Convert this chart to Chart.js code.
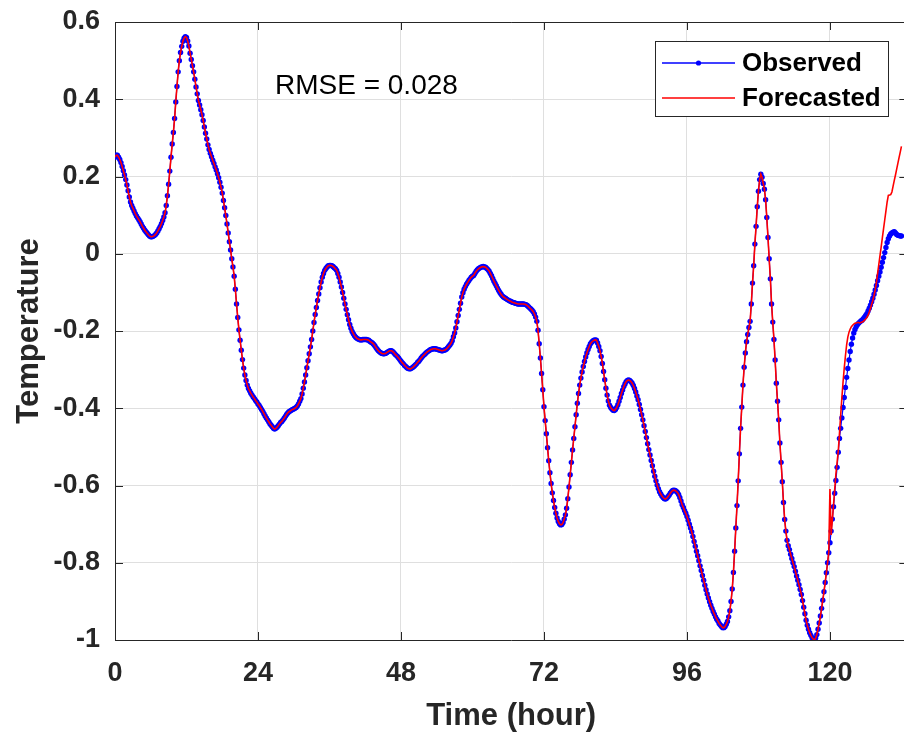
<!DOCTYPE html>
<html><head><meta charset="utf-8">
<script src="https://cdn.jsdelivr.net/npm/chart.js@4.4.1/dist/chart.umd.min.js"></script>
<style>
html,body{margin:0;padding:0;background:#fff;overflow:hidden;}
#wrap{width:912px;height:735px;}
</style></head><body>
<div id="wrap"><canvas id="c" width="912" height="735"></canvas></div>
<script>
// ---- data ----
const sampleStepHours = 0.2;
const xTickValues = [0, 24, 48, 72, 96, 120];
const xTickLabels = ['0', '24', '48', '72', '96', '120'];
const yTickValues = [-1, -0.8, -0.6, -0.4, -0.2, 0, 0.2, 0.4, 0.6];
const yTickLabels = ['-1', '-0.8', '-0.6', '-0.4', '-0.2', '0', '0.2', '0.4', '0.6'];
const seriesNames = ['Observed', 'Forecasted'];
const xAxisTitle = 'Time (hour)';
const yAxisTitle = 'Temperature';
const rmseText = 'RMSE = 0.028';

const observed = [
0.250,0.255,0.255,0.250,0.244,
0.236,0.226,0.215,0.204,0.192,
0.178,0.163,0.147,0.134,0.125,
0.118,0.111,0.104,0.098,0.093,
0.088,0.083,0.077,0.071,0.066,
0.061,0.057,0.053,0.049,0.046,
0.044,0.044,0.045,0.047,0.050,
0.054,0.059,0.065,0.071,0.078,
0.086,0.095,0.106,0.125,0.150,
0.180,0.214,0.250,0.284,0.314,
0.350,0.393,0.433,0.471,0.500,
0.521,0.537,0.550,0.558,0.562,
0.560,0.551,0.538,0.519,0.503,
0.487,0.471,0.452,0.432,0.414,
0.397,0.385,0.373,0.360,0.345,
0.328,0.312,0.297,0.282,0.270,
0.260,0.251,0.242,0.234,0.225,
0.217,0.207,0.197,0.185,0.172,
0.157,0.138,0.119,0.099,0.077,
0.054,0.031,0.010,-0.013,-0.034,
-0.058,-0.092,-0.130,-0.165,-0.197,
-0.224,-0.250,-0.274,-0.296,-0.314,
-0.328,-0.340,-0.349,-0.355,-0.361,
-0.366,-0.371,-0.375,-0.380,-0.384,
-0.389,-0.393,-0.398,-0.403,-0.408,
-0.414,-0.420,-0.425,-0.430,-0.435,
-0.440,-0.444,-0.448,-0.452,-0.454,
-0.452,-0.449,-0.445,-0.441,-0.437,
-0.434,-0.430,-0.426,-0.421,-0.416,
-0.412,-0.409,-0.407,-0.405,-0.403,
-0.402,-0.400,-0.398,-0.394,-0.389,
-0.382,-0.375,-0.363,-0.348,-0.332,
-0.314,-0.295,-0.277,-0.259,-0.241,
-0.222,-0.200,-0.178,-0.157,-0.139,
-0.121,-0.104,-0.088,-0.073,-0.061,
-0.051,-0.043,-0.038,-0.034,-0.031,
-0.030,-0.030,-0.031,-0.033,-0.036,
-0.039,-0.043,-0.051,-0.061,-0.073,
-0.086,-0.100,-0.115,-0.130,-0.144,
-0.158,-0.171,-0.183,-0.193,-0.201,
-0.207,-0.212,-0.216,-0.219,-0.221,
-0.222,-0.223,-0.223,-0.222,-0.222,
-0.222,-0.222,-0.223,-0.224,-0.227,
-0.229,-0.231,-0.234,-0.238,-0.243,
-0.247,-0.251,-0.254,-0.256,-0.258,
-0.259,-0.259,-0.258,-0.256,-0.254,
-0.252,-0.251,-0.251,-0.253,-0.256,
-0.260,-0.263,-0.266,-0.270,-0.274,
-0.278,-0.282,-0.285,-0.289,-0.292,
-0.295,-0.297,-0.298,-0.298,-0.296,
-0.294,-0.291,-0.288,-0.285,-0.281,
-0.278,-0.274,-0.270,-0.266,-0.263,
-0.260,-0.257,-0.254,-0.252,-0.250,
-0.248,-0.247,-0.246,-0.246,-0.246,
-0.247,-0.248,-0.249,-0.250,-0.251,
-0.251,-0.250,-0.249,-0.247,-0.244,
-0.240,-0.236,-0.232,-0.225,-0.215,
-0.205,-0.192,-0.176,-0.160,-0.144,
-0.128,-0.112,-0.101,-0.092,-0.085,
-0.079,-0.074,-0.069,-0.065,-0.061,
-0.058,-0.056,-0.051,-0.046,-0.042,
-0.039,-0.037,-0.035,-0.034,-0.033,
-0.034,-0.035,-0.038,-0.041,-0.045,
-0.051,-0.057,-0.064,-0.071,-0.077,
-0.083,-0.089,-0.095,-0.100,-0.105,
-0.109,-0.112,-0.114,-0.116,-0.118,
-0.120,-0.122,-0.123,-0.125,-0.126,
-0.127,-0.128,-0.129,-0.130,-0.130,
-0.130,-0.130,-0.130,-0.130,-0.131,
-0.132,-0.134,-0.137,-0.140,-0.143,
-0.146,-0.150,-0.156,-0.164,-0.175,
-0.198,-0.233,-0.270,-0.310,-0.352,
-0.396,-0.432,-0.466,-0.502,-0.536,
-0.567,-0.595,-0.619,-0.639,-0.657,
-0.672,-0.684,-0.693,-0.699,-0.702,
-0.701,-0.696,-0.687,-0.676,-0.659,
-0.634,-0.604,-0.572,-0.540,-0.508,
-0.478,-0.448,-0.417,-0.387,-0.362,
-0.340,-0.322,-0.306,-0.292,-0.279,
-0.267,-0.257,-0.248,-0.240,-0.233,
-0.229,-0.226,-0.224,-0.223,-0.224,
-0.231,-0.240,-0.251,-0.266,-0.284,
-0.305,-0.326,-0.348,-0.366,-0.381,
-0.392,-0.398,-0.402,-0.405,-0.406,
-0.403,-0.398,-0.391,-0.382,-0.372,
-0.362,-0.353,-0.344,-0.337,-0.331,
-0.328,-0.327,-0.328,-0.331,-0.335,
-0.341,-0.349,-0.358,-0.368,-0.378,
-0.390,-0.403,-0.417,-0.430,-0.445,
-0.460,-0.476,-0.492,-0.507,-0.521,
-0.535,-0.549,-0.563,-0.576,-0.588,
-0.599,-0.608,-0.616,-0.622,-0.627,
-0.631,-0.634,-0.635,-0.633,-0.629,
-0.625,-0.620,-0.616,-0.613,-0.612,
-0.613,-0.615,-0.618,-0.623,-0.631,
-0.640,-0.650,-0.657,-0.665,-0.672,
-0.680,-0.690,-0.700,-0.710,-0.720,
-0.732,-0.745,-0.757,-0.770,-0.782,
-0.795,-0.808,-0.820,-0.833,-0.845,
-0.858,-0.870,-0.881,-0.891,-0.901,
-0.910,-0.918,-0.926,-0.933,-0.940,
-0.946,-0.951,-0.957,-0.961,-0.965,
-0.968,-0.968,-0.965,-0.959,-0.952,
-0.940,-0.924,-0.900,-0.868,-0.825,
-0.770,-0.710,-0.652,-0.588,-0.518,
-0.452,-0.397,-0.340,-0.294,-0.257,
-0.228,-0.209,-0.191,-0.175,-0.130,
-0.076,-0.031,0.025,0.071,0.122,
0.162,0.192,0.206,0.198,0.182,
0.167,0.140,0.094,0.042,-0.013,
-0.065,-0.130,-0.177,-0.222,-0.275,
-0.335,-0.382,-0.430,-0.490,-0.540,
-0.590,-0.644,-0.688,-0.718,-0.742,
-0.756,-0.766,-0.778,-0.789,-0.800,
-0.810,-0.822,-0.834,-0.845,-0.857,
-0.869,-0.882,-0.898,-0.915,-0.932,
-0.949,-0.962,-0.972,-0.981,-0.988,
-0.994,-0.998,-1.000,-0.995,-0.986,
-0.972,-0.956,-0.938,-0.918,-0.897,
-0.875,-0.851,-0.826,-0.800,-0.774,
-0.748,-0.718,-0.687,-0.655,-0.620,
-0.587,-0.553,-0.514,-0.478,-0.452,
-0.425,-0.398,-0.372,-0.346,-0.320,
-0.297,-0.275,-0.253,-0.234,-0.218,
-0.205,-0.196,-0.189,-0.184,-0.180,
-0.177,-0.174,-0.172,-0.168,-0.164,
-0.160,-0.155,-0.148,-0.141,-0.133,
-0.124,-0.115,-0.105,-0.094,-0.082,
-0.070,-0.058,-0.047,-0.035,-0.022,
-0.010,0.003,0.016,0.029,0.039,
0.046,0.051,0.054,0.056,0.057,
0.054,0.050,0.048,0.047,0.046,
0.046
];

// forecast coincides with the observed record up to index 600 (t = 120 h)
const forecastStartIndex = 600;
const forecastTail = [
-0.609,-0.728,-0.690,-0.650,-0.610,
-0.570,-0.540,-0.510,-0.465,-0.418,
-0.373,-0.332,-0.296,-0.264,-0.236,
-0.216,-0.203,-0.195,-0.189,-0.185,
-0.182,-0.180,-0.179,-0.178,-0.178,
-0.179,-0.178,-0.177,-0.175,-0.172,
-0.169,-0.165,-0.159,-0.151,-0.142,
-0.131,-0.121,-0.108,-0.093,-0.074,
-0.051,-0.028,-0.005,0.018,0.042,
0.065,0.088,0.111,0.134,0.151,
0.152,0.153,0.160,0.175,0.190,
0.204,0.219,0.234,0.249,0.263,
0.278
];
const forecasted = observed.slice(0, forecastStartIndex).concat(forecastTail);

// ---- styling ----
const FONT = "'Liberation Sans', Arial, Helvetica, sans-serif";
const AX = '#262626';
const GRID = '#dfdfdf';

const toPoints = arr => arr.map((v, i) => ({ x: i * sampleStepHours, y: v }));

const decor = {
  id: 'decor',
  afterDraw(chart) {
    const { ctx, chartArea: a, scales: { x, y } } = chart;
    ctx.save();
    ctx.strokeStyle = AX;
    ctx.lineWidth = 1;
    // box: top and right edges
    ctx.beginPath();
    ctx.moveTo(a.left, Math.round(a.top) + 0.5);
    ctx.lineTo(a.right, Math.round(a.top) + 0.5);
    ctx.moveTo(Math.round(a.right) - 0.5, a.top);
    ctx.lineTo(Math.round(a.right) - 0.5, a.bottom);
    ctx.stroke();
    // inward tick marks
    const L = 8;
    ctx.beginPath();
    xTickValues.forEach(v => {
      const px = Math.round(x.getPixelForValue(v)) + 0.5;
      ctx.moveTo(px, a.bottom); ctx.lineTo(px, a.bottom - L);
      ctx.moveTo(px, a.top); ctx.lineTo(px, a.top + L);
    });
    yTickValues.forEach(v => {
      const py = Math.round(y.getPixelForValue(v)) + 0.5;
      ctx.moveTo(a.left, py); ctx.lineTo(a.left + L, py);
      ctx.moveTo(a.right, py); ctx.lineTo(a.right - L, py);
    });
    ctx.stroke();

    // RMSE annotation (data coordinates)
    ctx.fillStyle = '#000';
    ctx.font = '28px ' + FONT;
    ctx.textAlign = 'left';
    ctx.textBaseline = 'alphabetic';
    ctx.fillText(rmseText, x.getPixelForValue(26.85), y.getPixelForValue(0.414));

    // legend box
    const ds = chart.data.datasets;
    const obs = ds.find(d => d.label === seriesNames[0]);
    const fc = ds.find(d => d.label === seriesNames[1]);
    const bx = 655.5, by = 41.5, bw = 233, bh = 75;
    ctx.fillStyle = '#fff';
    ctx.fillRect(bx, by, bw, bh);
    ctx.strokeStyle = AX;
    ctx.lineWidth = 1;
    ctx.strokeRect(bx, by, bw, bh);
    const rows = [
      { d: obs, yy: 63, marker: true },
      { d: fc, yy: 98, marker: false }
    ];
    rows.forEach(r => {
      ctx.strokeStyle = r.d.borderColor;
      ctx.lineWidth = r.marker ? 1.5 : 1.3;
      ctx.beginPath();
      ctx.moveTo(662, r.yy); ctx.lineTo(735, r.yy);
      ctx.stroke();
      if (r.marker) {
        ctx.fillStyle = r.d.pointBackgroundColor;
        ctx.beginPath();
        ctx.arc(698.5, r.yy, 2.6, 0, Math.PI * 2);
        ctx.fill();
      }
      ctx.fillStyle = '#000';
      ctx.font = 'bold 26px ' + FONT;
      ctx.textAlign = 'left';
      ctx.textBaseline = 'middle';
      ctx.fillText(r.d.label, 742, r.yy + 1);
    });
    ctx.restore();
  }
};

new Chart(document.getElementById('c'), {
  type: 'line',
  data: {
    datasets: [
      {
        label: seriesNames[1],
        data: toPoints(forecasted),
        borderColor: '#ff0000',
        borderWidth: 1.6,
        pointRadius: 0,
        tension: 0,
        order: 0
      },
      {
        label: seriesNames[0],
        data: toPoints(observed),
        borderColor: '#0000ff',
        borderWidth: 1.2,
        pointRadius: 2.7,
        pointBackgroundColor: '#0000ff',
        pointBorderWidth: 0,
        tension: 0,
        order: 1
      }
    ]
  },
  options: {
    responsive: false,
    animation: false,
    devicePixelRatio: 1,
    events: [],
    layout: { padding: { left: 0, top: 22, right: 4.6, bottom: 0 } },
    plugins: { legend: { display: false }, tooltip: { enabled: false } },
    scales: {
      x: {
        type: 'linear',
        min: 0,
        max: 133,
        afterBuildTicks: s => { s.ticks = xTickValues.map(v => ({ value: v })); },
        afterFit: s => { s.height = 95; s.paddingLeft = 0; s.paddingRight = 0; },
        ticks: {
          padding: 17,
          color: AX,
          autoSkip: false,
          maxRotation: 0,
          font: { family: FONT, size: 27, weight: 'bold' },
          callback: (v, i) => xTickLabels[i]
        },
        grid: { color: GRID, lineWidth: 1, drawTicks: false },
        border: { color: AX, width: 1 },
        title: {
          display: true,
          text: xAxisTitle,
          color: AX,
          font: { family: FONT, size: 31, weight: 'bold' },
          padding: { top: 0, bottom: 0 }
        }
      },
      y: {
        type: 'linear',
        min: -1,
        max: 0.6,
        afterBuildTicks: s => { s.ticks = yTickValues.map(v => ({ value: v })); },
        afterFit: s => { s.width = 115; s.paddingTop = 0; s.paddingBottom = 0; },
        ticks: {
          padding: 15,
          color: AX,
          autoSkip: false,
          font: { family: FONT, size: 27, weight: 'bold' },
          callback: (v, i) => yTickLabels[i]
        },
        grid: { color: GRID, lineWidth: 1, drawTicks: false },
        border: { color: AX, width: 1 },
        title: {
          display: true,
          text: yAxisTitle,
          color: AX,
          font: { family: FONT, size: 31, weight: 'bold' },
          padding: { top: 11, bottom: 0 }
        }
      }
    }
  },
  plugins: [decor]
});
</script>
</body></html>
